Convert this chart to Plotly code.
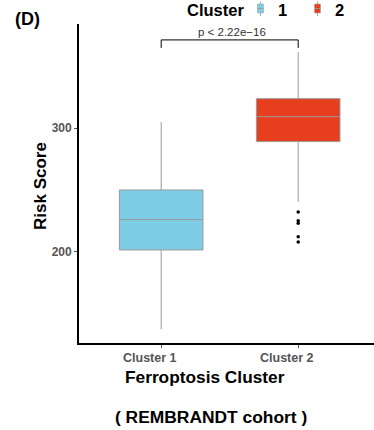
import plotly.graph_objects as go

# Summary statistics of the risk score per ferroptosis cluster
clusters = ["Cluster 1", "Cluster 2"]
q1 = [201.4, 289.2]
median = [226.0, 309.4]
q3 = [250.0, 324.0]
lower_fence = [137.1, 240.5]
upper_fence = [304.9, 361.8]
outliers_c2 = [232.2, 225.1, 223.0, 212.2, 207.9]
fill_colors = ["#7ECDE6", "#E63E1E"]
p_label = "p < 2.22e\u221216"
y_ticks = [200, 300]

W, H = 374, 430
L, R, T, B = 79, 0, 24, 87
PW, PH = W - L - R, H - T - B
FONT = "Liberation Sans, Arial, sans-serif"


def px(x):
    return (x - L) / PW


def py(y):
    return (H - B - y) / PH


fig = go.Figure()
for i, name in enumerate(clusters):
    fig.add_trace(go.Box(
        x=[name], q1=[q1[i]], median=[median[i]], q3=[q3[i]],
        lowerfence=[lower_fence[i]], upperfence=[upper_fence[i]],
        fillcolor=fill_colors[i], line=dict(color="#9a9a9a", width=1),
        width=0.61, whiskerwidth=0, boxpoints=False, showlegend=False,
    ))

fig.add_trace(go.Scatter(
    x=[clusters[1]] * len(outliers_c2), y=outliers_c2, mode="markers",
    marker=dict(color="black", size=3.5), showlegend=False, hoverinfo="y",
))

# significance bracket
yb_top, yb_bot = 371.6, 365.1
for seg in [(0, yb_bot, 0, yb_top), (0, yb_top, 1, yb_top), (1, yb_top, 1, yb_bot)]:
    fig.add_shape(type="line", xref="x", yref="y", x0=seg[0], y0=seg[1],
                  x1=seg[2], y1=seg[3], line=dict(color="black", width=1))

ann = []
ann.append(dict(x=0.5, y=yb_top, xref="x", yref="y", text=p_label, showarrow=False,
                yanchor="bottom", yshift=0, xshift=2,
                font=dict(family=FONT, size=11.5, color="#333333")))

# x tick labels
for i, name in enumerate(clusters):
    ann.append(dict(x=i, y=py(358), xref="x", yref="paper", text=f"<b>{name}</b>",
                    showarrow=False, xshift=-11, yanchor="middle",
                    font=dict(family=FONT, size=12.5, color="#555555")))

ann.append(dict(x=px(205), y=py(377), xref="paper", yref="paper",
                text="<b>Ferroptosis Cluster</b>", showarrow=False, yanchor="middle",
                font=dict(family=FONT, size=17.3, color="black")))
ann.append(dict(x=px(211), y=py(417), xref="paper", yref="paper",
                text="<b>( REMBRANDT cohort )</b>", showarrow=False, yanchor="middle",
                font=dict(family=FONT, size=17.4, color="black")))
ann.append(dict(x=px(40), y=py(186), xref="paper", yref="paper",
                text="<b>Risk Score</b>", showarrow=False, textangle=-90,
                xanchor="center", yanchor="middle",
                font=dict(family=FONT, size=17, color="black")))
ann.append(dict(x=px(27), y=py(18.5), xref="paper", yref="paper",
                text="<b>(D)</b>", showarrow=False, xanchor="center", yanchor="middle",
                font=dict(family=FONT, size=18, color="black")))

# legend
ann.append(dict(x=px(215.5), y=py(9.5), xref="paper", yref="paper",
                text="<b>Cluster</b>", showarrow=False, xanchor="center", yanchor="middle",
                font=dict(family=FONT, size=16.5, color="black")))
for lx, lbl, col in [(260.5, "1", fill_colors[0]), (317.5, "2", fill_colors[1])]:
    fig.add_shape(type="line", xref="paper", yref="paper", x0=px(lx), x1=px(lx),
                  y0=py(1.5), y1=py(16), line=dict(color="#aaaaaa", width=1))
    fig.add_shape(type="rect", xref="paper", yref="paper", x0=px(lx - 3), x1=px(lx + 3),
                  y0=py(4), y1=py(13), fillcolor=col, line=dict(color="#aaaaaa", width=0.6))
    fig.add_shape(type="line", xref="paper", yref="paper", x0=px(lx - 3), x1=px(lx + 3),
                  y0=py(8.5), y1=py(8.5), line=dict(color="#999999", width=0.8))
    ann.append(dict(x=px(lx + 22), y=py(9.5), xref="paper", yref="paper",
                    text=f"<b>{lbl}</b>", showarrow=False, xanchor="center", yanchor="middle",
                    font=dict(family=FONT, size=16.5, color="black")))

fig.update_layout(
    width=W, height=H, margin=dict(l=L, r=R, t=T, b=B, pad=0),
    paper_bgcolor="white", plot_bgcolor="white",
    annotations=ann,
    xaxis=dict(type="category", categoryorder="array", categoryarray=clusters,
               range=[-0.6, -0.6 + PW / 137], showgrid=False, zeroline=False,
               showline=True, linecolor="black", linewidth=1.8,
               ticks="outside", ticklen=3, tickcolor="#555555", tickwidth=1,
               showticklabels=False, fixedrange=True),
    yaxis=dict(range=[126.0, 384.5], tickvals=y_ticks, showgrid=False, zeroline=False,
               showline=True, linecolor="black", linewidth=1.8,
               ticks="outside", ticklen=3, tickcolor="#555555", tickwidth=1,
               tickfont=dict(family=FONT, size=12, color="#555555", weight="bold"),
               fixedrange=True),
    showlegend=False,
)

fig.write_html("out.html")
